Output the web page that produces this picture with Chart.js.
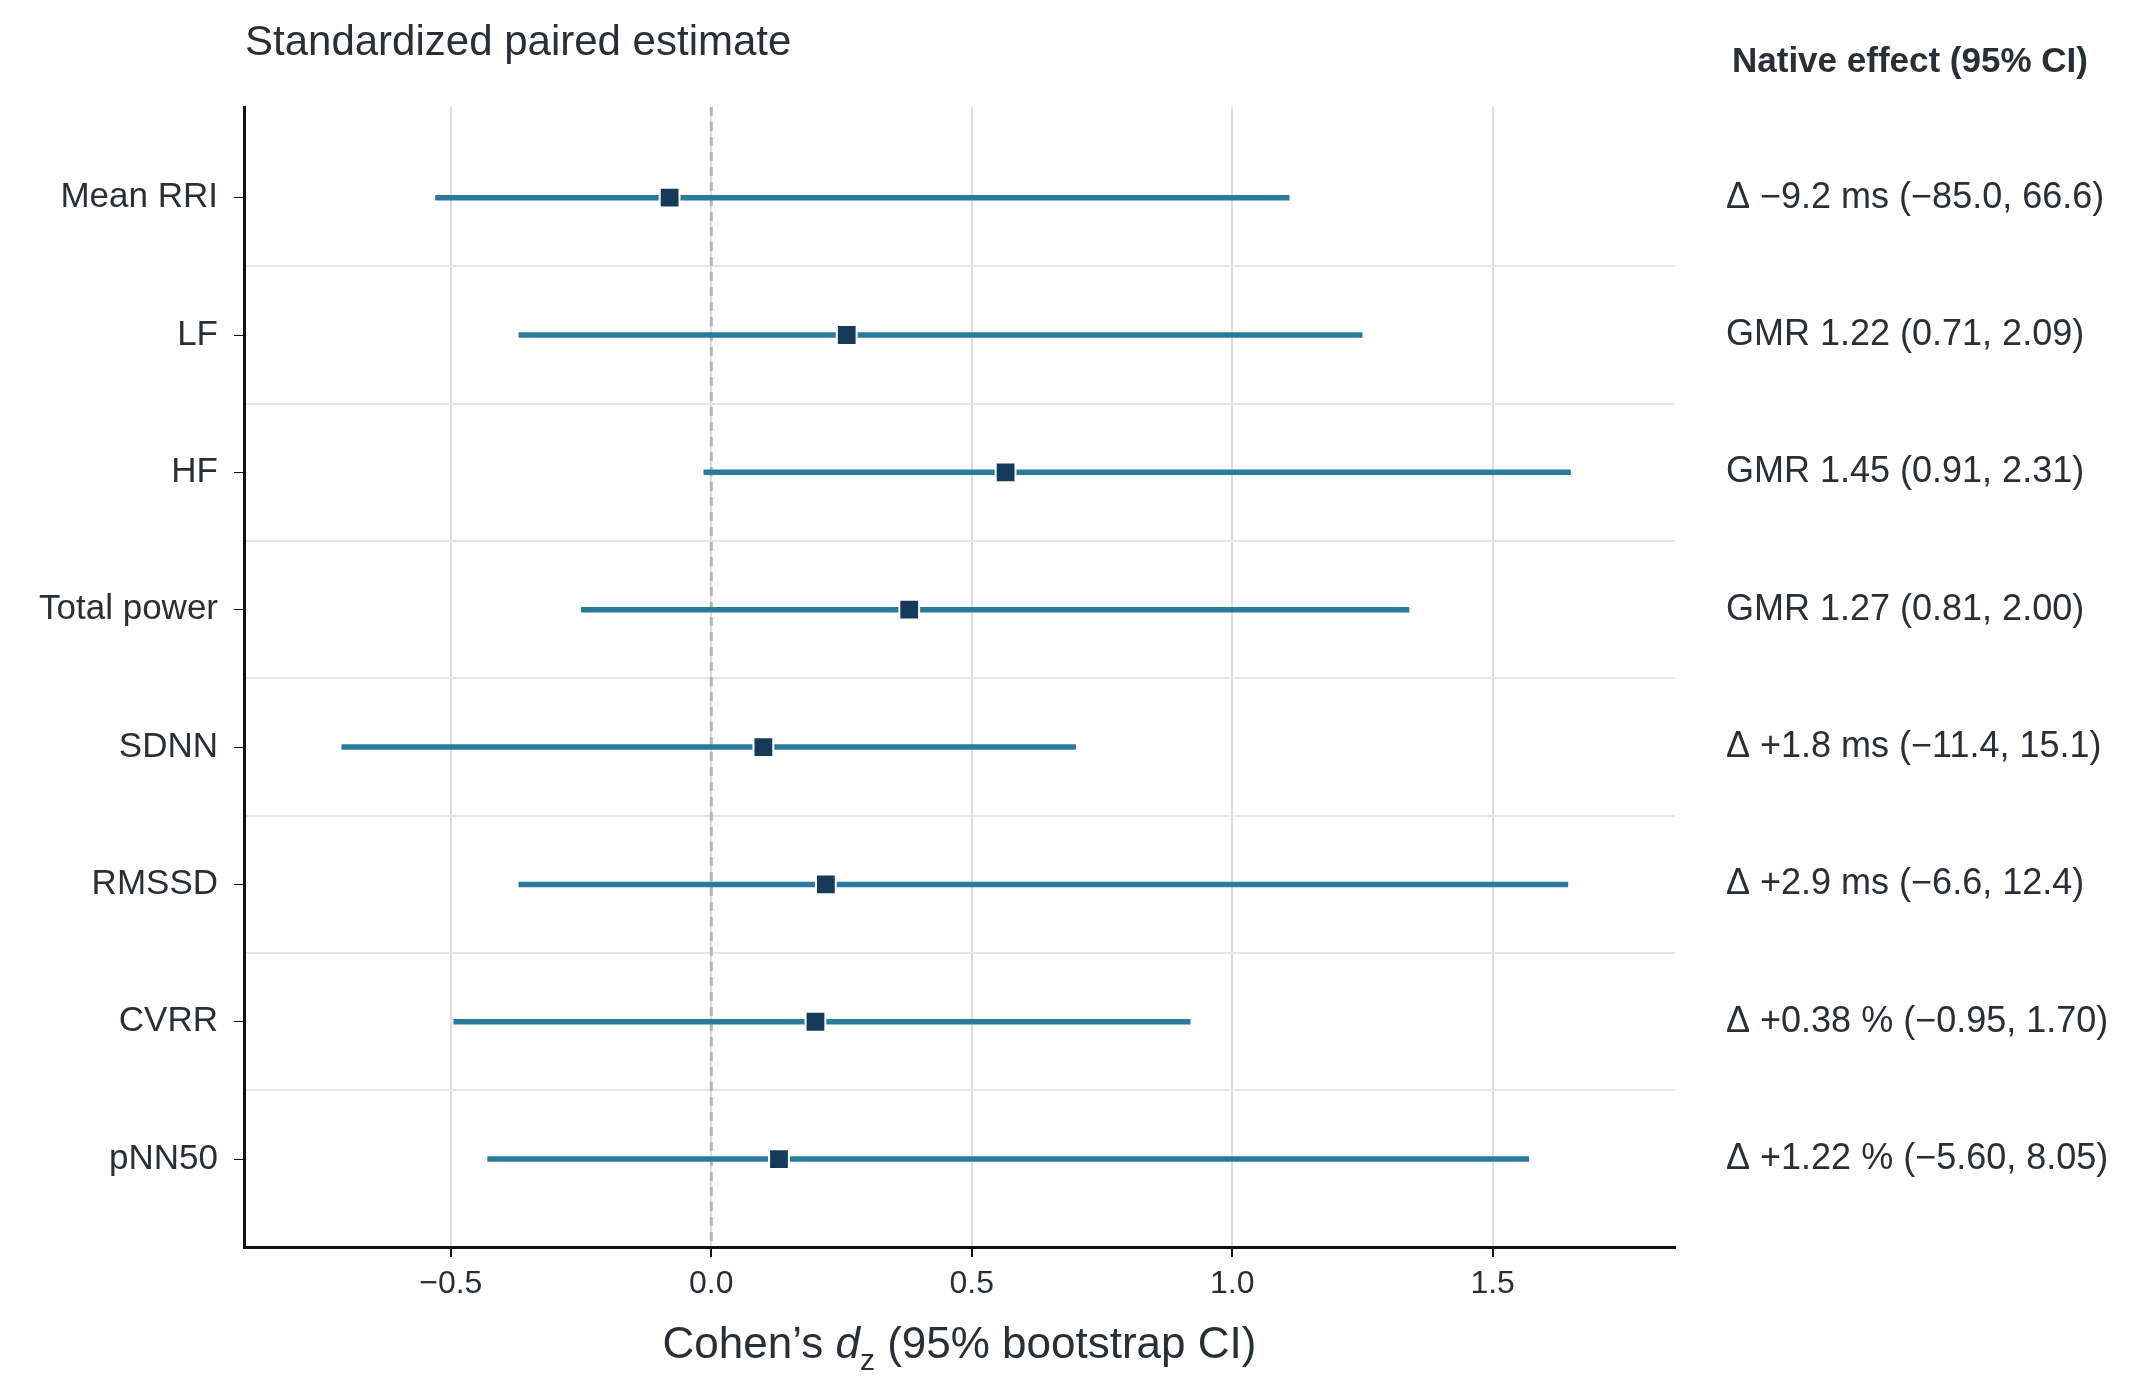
<!DOCTYPE html>
<html><head><meta charset="utf-8">
<script src="https://cdn.jsdelivr.net/npm/chart.js@4/dist/chart.umd.min.js"></script>
<style>body{margin:0;background:#fff}canvas{display:block}</style>
</head><body>
<canvas id="c" width="2149" height="1395"></canvas>
<script>
const categories = ['Mean RRI','LF','HF','Total power','SDNN','RMSSD','CVRR','pNN50'];
const estimate = [-0.08, 0.26, 0.565, 0.38, 0.10, 0.22, 0.20, 0.13];
const ciLow = [-0.53, -0.37, -0.015, -0.25, -0.71, -0.37, -0.495, -0.43];
const ciHigh = [1.11, 1.25, 1.65, 1.34, 0.70, 1.645, 0.92, 1.57];
const nativeLabels = ['Δ −9.2 ms (−85.0, 66.6)','GMR 1.22 (0.71, 2.09)','GMR 1.45 (0.91, 2.31)','GMR 1.27 (0.81, 2.00)',
  'Δ +1.8 ms (−11.4, 15.1)','Δ +2.9 ms (−6.6, 12.4)','Δ +0.38 % (−0.95, 1.70)','Δ +1.22 % (−5.60, 8.05)'];
const xTicks = [-0.5, 0, 0.5, 1.0, 1.5];

const FONT = 'Arial, "Liberation Sans", sans-serif';
const TXT = '#2a2e35';
const Y_MIN = -0.66, Y_MAX = 7.64;

const datasets = [];
categories.forEach((c, i) => {
  datasets.push({type:'line', order:2, data:[{x:ciLow[i],y:i},{x:ciHigh[i],y:i}], borderColor:'#2a7b9b', borderWidth:5.5, pointRadius:0, yAxisID:'y'});
});
datasets.push({type:'line', order:3, data:[{x:0,y:Y_MIN},{x:0,y:Y_MAX}], borderColor:'#b5b5b5', borderWidth:3, borderDash:[9,6], pointRadius:0, yAxisID:'y'});
datasets.push({type:'scatter', order:0, data:estimate.map((v,i)=>({x:v,y:i})), pointStyle:'rect', pointRadius:14, backgroundColor:'#163a5a', borderColor:'#ffffff', borderWidth:2, yAxisID:'y'});

const textPlugin = {
  id:'texts',
  afterDraw(chart){
    const ctx = chart.ctx, ys = chart.scales.y, ca = chart.chartArea;
    ctx.save();
    ctx.fillStyle = TXT;
    ctx.textBaseline = 'middle';
    ctx.font = '42px ' + FONT;
    ctx.textAlign = 'left';
    ctx.fillText('Standardized paired estimate', 245, 43);
    ctx.font = 'bold 35px ' + FONT;
    ctx.fillText('Native effect (95% CI)', 1732, 62);
    ctx.font = '36px ' + FONT;
    nativeLabels.forEach((t,i)=>ctx.fillText(t, 1726, ys.getPixelForValue(i)));
    const p1 = 'Cohen’s ', p3 = ' (95% bootstrap CI)';
    ctx.font = '44px ' + FONT; const w1 = ctx.measureText(p1).width, w3 = ctx.measureText(p3).width;
    ctx.font = 'italic 44px ' + FONT; const w2 = ctx.measureText('d').width;
    ctx.font = '30px ' + FONT; const wz = ctx.measureText('z').width;
    const total = w1+w2+wz+w3; let x = (ca.left+ca.right)/2 - total/2; const y = 1346;
    ctx.font = '44px ' + FONT; ctx.fillText(p1, x, y); x += w1;
    ctx.font = 'italic 44px ' + FONT; ctx.fillText('d', x, y); x += w2;
    ctx.font = '30px ' + FONT; ctx.fillText('z', x, y+16); x += wz;
    ctx.font = '44px ' + FONT; ctx.fillText(p3, x, y);
    ctx.restore();
  }
};

new Chart(document.getElementById('c'), {
  type:'scatter',
  data:{datasets},
  options:{
    responsive:false, animation:false,
    layout:{padding:{top:107, right:474, left:0, bottom:0}},
    plugins:{legend:{display:false}, tooltip:{enabled:false}},
    scales:{
      x:{type:'linear', min:-0.897, max:1.85,
        afterBuildTicks(s){ s.ticks = xTicks.map(v=>({value:v})); },
        afterFit(s){ s.height = 148; },
        grid:{color:'#dcdcdc', lineWidth:2, drawTicks:true, tickLength:10, tickColor:'#111'},
        border:{color:'#111', width:3},
        ticks:{color:TXT, font:{size:32, family:FONT}, padding:8, callback:v=>v===0?'0.0':(v<0?'−':'')+Math.abs(v).toFixed(1)}},
      y:{type:'linear', reverse:true, min:Y_MIN, max:Y_MAX, position:'left',
        afterBuildTicks(s){ s.ticks = categories.map((c,i)=>({value:i})); },
        afterFit(s){ s.width = 244; },
        grid:{display:true, drawOnChartArea:false, tickLength:10, tickColor:'#111'},
        border:{color:'#111', width:3},
        ticks:{color:TXT, font:{size:35, family:FONT}, padding:16, callback:v=>categories[v]}},
      yg:{type:'linear', reverse:true, min:Y_MIN, max:Y_MAX, display:true, position:'left',
        afterBuildTicks(s){ s.ticks = categories.slice(1).map((c,i)=>({value:i+0.5})); },
        afterFit(s){ s.width = 0; },
        grid:{color:'#e6e6e6', lineWidth:2, drawTicks:false},
        border:{display:false},
        ticks:{display:false}}
    }
  },
  plugins:[textPlugin]
});
</script>
</body></html>
